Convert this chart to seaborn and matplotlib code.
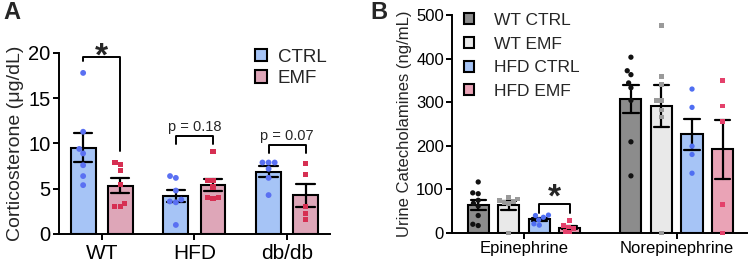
import numpy as np
import pandas as pd
import seaborn as sns
import matplotlib.pyplot as plt
from matplotlib.patches import Patch

# ---- panel A: corticosterone (ug/dL), one list per group x treatment
groups_a = ['WT', 'HFD', 'db/db']
treat_a = ['CTRL', 'EMF']
wt_ctrl = [17.8, 11.3, 9.4, 8.9, 7.6, 6.4, 5.4]
wt_emf = [7.9, 7.7, 7.0, 5.5, 3.4, 3.0, 3.0]
hfd_ctrl = [6.4, 6.2, 4.8, 3.8, 3.6, 3.5, 1.0]
hfd_emf = [9.1, 5.9, 5.9, 5.2, 4.0, 4.0, 3.9]
db_ctrl = [7.9, 7.9, 7.9, 7.2, 6.2, 4.3]
db_emf = [7.8, 6.6, 3.0, 2.3, 1.6]
pvals_a = ['*', 'p = 0.18', 'p = 0.07']

# ---- panel B: urine catecholamines (ng/mL)
hormones = ['Epinephrine', 'Norepinephrine']
groups_b = ['WT CTRL', 'WT EMF', 'HFD CTRL', 'HFD EMF']
epi_wt_ctrl = [117, 92, 90, 75, 68, 62, 40, 20, 17]
epi_wt_emf = [82, 78, 75, 72, 70, 68, 0]
epi_hfd_ctrl = [41, 40, 36, 30, 21, 18]
epi_hfd_emf = [28, 17, 14, 10, 3, 2]
nor_wt_ctrl = [403, 372, 363, 344, 333, 304, 209, 131]
nor_wt_emf = [476, 359, 340, 304, 304, 282, 266, 0]
nor_hfd_ctrl = [330, 288, 199, 180, 137]
nor_hfd_emf = [349, 291, 255, 66, 0]


def long_df(table, xname, hname):
    rows = []
    for (x, h), vals in table.items():
        rows += [(x, h, v) for v in vals]
    return pd.DataFrame(rows, columns=[xname, hname, 'value'])


df_a = long_df({('WT', 'CTRL'): wt_ctrl, ('WT', 'EMF'): wt_emf,
                ('HFD', 'CTRL'): hfd_ctrl, ('HFD', 'EMF'): hfd_emf,
                ('db/db', 'CTRL'): db_ctrl, ('db/db', 'EMF'): db_emf},
               'group', 'treat')
df_b = long_df({('Epinephrine', 'WT CTRL'): epi_wt_ctrl, ('Epinephrine', 'WT EMF'): epi_wt_emf,
                ('Epinephrine', 'HFD CTRL'): epi_hfd_ctrl, ('Epinephrine', 'HFD EMF'): epi_hfd_emf,
                ('Norepinephrine', 'WT CTRL'): nor_wt_ctrl, ('Norepinephrine', 'WT EMF'): nor_wt_emf,
                ('Norepinephrine', 'HFD CTRL'): nor_hfd_ctrl, ('Norepinephrine', 'HFD EMF'): nor_hfd_emf},
               'hormone', 'group')

sns.set_theme(style='ticks')
plt.rcParams['font.family'] = ['Liberation Sans', 'DejaVu Sans']
plt.rcParams['axes.linewidth'] = 1.4
plt.rcParams['xtick.major.width'] = 1.4
plt.rcParams['ytick.major.width'] = 1.4
plt.rcParams['xtick.major.size'] = 4
plt.rcParams['ytick.major.size'] = 4
plt.rcParams['xtick.color'] = 'black'
plt.rcParams['ytick.color'] = 'black'
plt.rcParams['axes.edgecolor'] = 'black'

bar_a = {'CTRL': '#a6c4f6', 'EMF': '#dea6b8'}
dot_a = {'CTRL': '#5a70f2', 'EMF': '#d62f52'}
mark_a = {'CTRL': 'o', 'EMF': 's'}
bar_b = {'WT CTRL': '#8c8c8c', 'WT EMF': '#e9e9e9', 'HFD CTRL': '#a6c4f6', 'HFD EMF': '#eaa3b6'}
dot_b = {'WT CTRL': '#111111', 'WT EMF': '#9a9a9a', 'HFD CTRL': '#4f6ef2', 'HFD EMF': '#e4416b'}
mark_b = {'WT CTRL': 'o', 'WT EMF': 's', 'HFD CTRL': 'o', 'HFD EMF': 's'}

fig = plt.figure(figsize=(7.5, 2.65), dpi=100)
axA = fig.add_axes([0.0787, 0.117, 0.361, 0.683])
axB = fig.add_axes([0.603, 0.1208, 0.393, 0.823])

###########Panel A
sns.barplot(data=df_a, x='group', y='value', hue='treat', order=groups_a, hue_order=treat_a,
            palette=bar_a, errorbar='se', capsize=0.4, gap=0.33, width=0.8,
            edgecolor='black', linewidth=1.5, saturation=1,
            err_kws={'color': 'black', 'linewidth': 1.6}, legend=False, ax=axA)
for t in treat_a:
    sns.swarmplot(data=df_a[df_a.treat == t], x='group', y='value', hue='treat',
                  order=groups_a, hue_order=treat_a, dodge=True, palette=dot_a,
                  marker=mark_a[t], size=4.2 if t == 'CTRL' else 3.8,
                  legend=False, clip_on=False, ax=axA)
axA.set_ylim(0, 20)
axA.set_xlim(-0.46, 2.46)
axA.set_yticks([0, 5, 10, 15, 20])
axA.tick_params(axis='y', labelsize=14.5, pad=2)
axA.tick_params(axis='x', labelsize=15, pad=3)
axA.set_xlabel('')
axA.set_ylabel('Corticosterone (μg/dL)', fontsize=14, labelpad=3)
sns.despine(ax=axA)

# significance brackets
off = 0.2
br = [(19.6, 19.1, 9.2), (10.8, 9.9, 9.9), (9.8, 8.9, 8.9)]
for i, (top, l, r) in enumerate(br):
    axA.plot([i - off, i - off, i + off, i + off], [l, top, top, r], color='black', lw=1.4, clip_on=False)
    if pvals_a[i] == '*':
        axA.text(i, top - 0.1, '*', ha='center', va='center', fontsize=24, fontweight='bold', clip_on=False)
    else:
        axA.text(i, top + 0.3, pvals_a[i], ha='center', va='bottom', fontsize=10.5)

axA.legend(handles=[Patch(facecolor=bar_a[t], edgecolor='black', linewidth=1.5, label=t) for t in treat_a],
           loc='upper left', bbox_to_anchor=(255 / 750, 1 - 49 / 265), bbox_transform=fig.transFigure,
           frameon=False, fontsize=13.5, handlelength=0.62, handleheight=0.62, handletextpad=0.6,
           labelspacing=0.22, borderpad=0, borderaxespad=0)

###########Panel B
sns.barplot(data=df_b, x='hormone', y='value', hue='group', order=hormones, hue_order=groups_b,
            palette=bar_b, errorbar='se', capsize=0.4, gap=0.31, width=0.8,
            edgecolor='black', linewidth=1.5, saturation=1,
            err_kws={'color': 'black', 'linewidth': 1.6}, legend=False, ax=axB)
for g in groups_b:
    sns.swarmplot(data=df_b[df_b.group == g], x='hormone', y='value', hue='group',
                  order=hormones, hue_order=groups_b, dodge=True, palette=dot_b,
                  marker=mark_b[g], size=3.8 if mark_b[g] == 'o' else 3.4,
                  legend=False, clip_on=False, ax=axB)
axB.set_ylim(0, 500)
axB.set_xlim(-0.47, 1.46)
axB.set_yticks(np.arange(0, 501, 100))
axB.tick_params(axis='both', labelsize=12, pad=2)
axB.set_xlabel('')
axB.set_ylabel('Urine Catecholamines (ng/mL)', fontsize=12, labelpad=3)
sns.despine(ax=axB)

x0, x1 = 0.1, 0.3
axB.plot([x0, x0, x1, x1], [45, 66, 66, 45], color='black', lw=1.4)
axB.text((x0 + x1) / 2, 80, '*', ha='center', va='center', fontsize=24, fontweight='bold')

axB.legend(handles=[Patch(facecolor=bar_b[g], edgecolor='black', linewidth=1.5, label=g) for g in groups_b],
           loc='upper left', bbox_to_anchor=(464 / 750, 1 - 13 / 265), bbox_transform=fig.transFigure,
           frameon=False, fontsize=12.5, handlelength=0.6, handleheight=0.6, handletextpad=1.1,
           labelspacing=0.5, borderpad=0, borderaxespad=0)

fig.text(0.004, 0.995, 'A', fontsize=17, fontweight='bold', va='top')
fig.text(0.494, 0.995, 'B', fontsize=17, fontweight='bold', va='top')

fig.savefig('out.png', dpi=100)
